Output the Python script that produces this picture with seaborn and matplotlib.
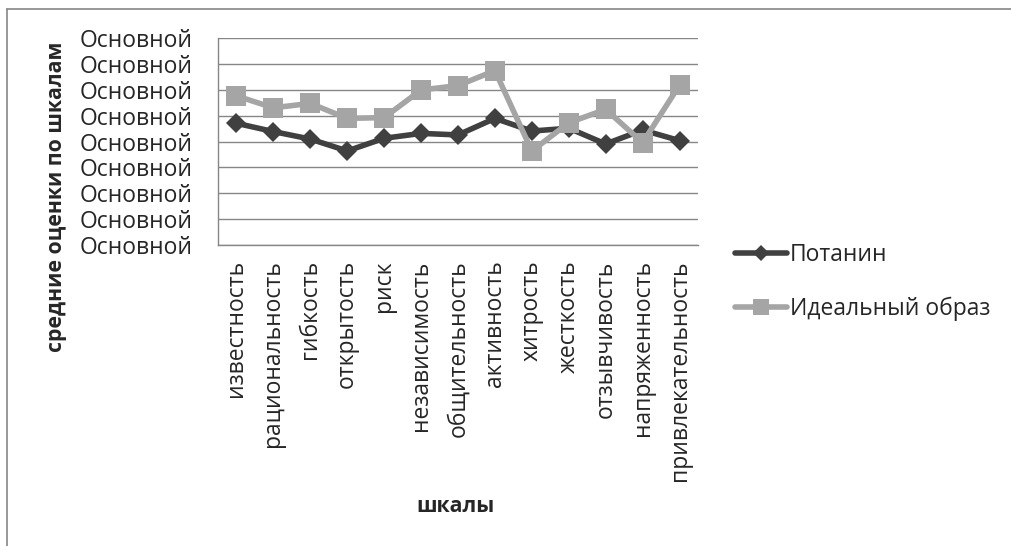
import matplotlib
matplotlib.use("Agg")
import matplotlib.pyplot as plt
import seaborn as sns
import pandas as pd
from matplotlib.lines import Line2D

categories = ["известность", "рациональность", "гибкость", "открытость", "риск",
              "независимость", "общительность", "активность", "хитрость", "жесткость",
              "отзывчивость", "напряженность", "привлекательность"]
potanin = [4.71, 4.39, 4.10, 3.64, 4.13, 4.32, 4.26, 4.90, 4.41, 4.52, 3.91, 4.45, 4.04]
ideal = [5.77, 5.31, 5.48, 4.90, 4.93, 6.00, 6.17, 6.75, 3.64, 4.73, 5.25, 3.96, 6.19]
series_names = ["Потанин", "Идеальный образ"]
ytick_values = [0, 1, 2, 3, 4, 5, 6, 7, 8]
ytick_labels = ["Основной"] * 9
x_label = "шкалы"
y_label = "средние оценки по шкалам"

sns.set_theme(style="white")
plt.rcParams['font.family'] = ['Open Sans', 'DejaVu Sans']

df = pd.DataFrame({
    "cat": categories * 2,
    "val": potanin + ideal,
    "series": [series_names[0]] * len(categories) + [series_names[1]] * len(categories),
})
df["x"] = list(range(len(categories))) * 2

W, H = 1012, 546
fig = plt.figure(figsize=(W / 100, H / 100), dpi=100)
ax = fig.add_axes([218 / W, 1 - 245 / H, (698 - 218) / W, (245 - 38.3) / H])

colors = {"Потанин": "#404040", "Идеальный образ": "#a5a5a5"}
markers = {"Потанин": "D", "Идеальный образ": "s"}
msizes = {"Потанин": 10.5, "Идеальный образ": 14}
for name in series_names:
    sub = df[df["series"] == name]
    sns.lineplot(data=sub, x="x", y="val", ax=ax, color=colors[name], lw=4,
                 marker=markers[name], markersize=msizes[name], markeredgewidth=0,
                 legend=False)

FS = 16.5
ax.set_xlim(-0.5, len(categories) - 0.5)
ax.set_ylim(0, 8)
ax.set_yticks(ytick_values)
ax.set_yticklabels(ytick_labels, fontsize=FS)
ax.set_xticks(range(len(categories)))
ax.set_xticklabels(categories, rotation=90, fontsize=FS, va="top")
ax.set_xticks([i - 0.5 for i in range(len(categories) + 1)], minor=True)
ax.tick_params(axis="x", which="major", length=0, pad=11)
ax.tick_params(axis="x", which="minor", length=6, color="#868686", width=1, direction="out")
ax.tick_params(axis="y", length=6, color="#868686", width=1, direction="out", pad=12)
ax.yaxis.grid(True, color="#868686", lw=1)
ax.set_axisbelow(True)
for s in ["top", "right"]:
    ax.spines[s].set_visible(False)
for s in ["left", "bottom"]:
    ax.spines[s].set_color("#868686")
    ax.spines[s].set_linewidth(1)
ax.set_xlabel("")
ax.set_ylabel("")

fig.text(456 / W, 1 - 506 / H, x_label, fontsize=15.3, fontweight="bold", ha="center", va="center")
fig.text(57 / W, 1 - 197 / H, y_label, fontsize=15.3, fontweight="bold", ha="center", va="center", rotation=90)

handles = [Line2D([], [], color=colors[n], lw=4, marker=markers[n], markersize=msizes[n] - 2,
                  markeredgewidth=0) for n in series_names]
leg = fig.legend(handles, series_names, loc="upper left", bbox_to_anchor=(735 / W, 1 - 243 / H),
                 frameon=False, fontsize=FS, handlelength=2.25, handletextpad=0.15,
                 labelspacing=1.3, borderaxespad=0, borderpad=0)

# chart area border (left and top only visible)
fig.add_artist(Line2D([7 / W, 7 / W], [0, 1 - 9 / H], color="#868686", lw=1.2, transform=fig.transFigure))
fig.add_artist(Line2D([7 / W, 1], [1 - 9 / H, 1 - 9 / H], color="#868686", lw=1.2, transform=fig.transFigure))

fig.savefig("out.png", dpi=100, facecolor="white")
